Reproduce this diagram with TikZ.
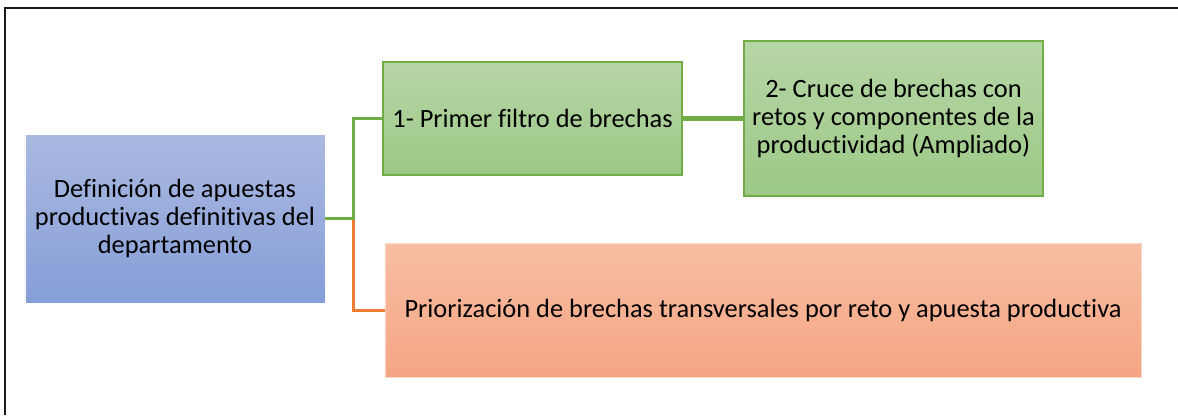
\documentclass[tikz,border=0pt]{standalone}
\usepackage{fontspec}
\setmainfont[Ligatures={NoCommon}]{Carlito}
\definecolor{gline}{HTML}{70AD47}
\definecolor{oline}{HTML}{ED7D31}
\definecolor{btop}{HTML}{AAB9E1}
\definecolor{bbot}{HTML}{869ED7}
\definecolor{gtop}{HTML}{B6D6A6}
\definecolor{gbot}{HTML}{9CC886}
\definecolor{otop}{HTML}{F7BEA3}
\definecolor{obot}{HTML}{F5A583}
\tikzset{
  box/.style={rectangle, inner sep=0pt, align=center, font=\fontsize{26.5}{28.5}\selectfont, text=black},
  bluebox/.style={box, top color=btop, bottom color=bbot, draw=white, line width=0.8bp},
  greenbox/.style={box, top color=gtop, bottom color=gbot, draw=gline, line width=2.2bp},
  orangebox/.style={box, top color=otop, bottom color=obot, draw=otop!60!white, line width=0.8bp},
  gconn/.style={draw=gline, line width=2.6bp},
  oconn/.style={draw=oline, line width=3bp},
}
\begin{document}
\begin{tikzpicture}[x=1bp,y=-1bp]
\useasboundingbox (0,0) rectangle (1178,415);
\fill[white] (0,0) rectangle (1178,415);
\draw[line width=2.2bp, black!90] (4.6,415) -- (4.6,7.6) -- (1178,7.6);

\node[bluebox, minimum width=300bp, minimum height=169bp] (def) at (175,218.5)
  {Definición de apuestas\\productivas definitivas del\\departamento};
\node[greenbox, minimum width=299bp, minimum height=113bp] (f1) at (532.5,118.5)
  {1- Primer filtro de brechas};
\node[greenbox, minimum width=299bp, minimum height=155bp] (f2) at (893.5,118.5)
  {2- Cruce de brechas con\\retos y componentes de la\\productividad (Ampliado)};
\node[orangebox, minimum width=756bp, minimum height=134bp] (pri) at (763,310)
  {Priorización de brechas transversales por reto y apuesta productiva};

\coordinate (j) at (353.5,218.5);
\draw[oconn] (j) -- (j |- pri.west) -- (pri.west);
\draw[gconn] (def.east) -- (j) -- (j |- f1.west) -- (f1.west);
\draw[gline, line width=4.2bp] (f1.east) -- (f2.west);
\end{tikzpicture}
\end{document}
